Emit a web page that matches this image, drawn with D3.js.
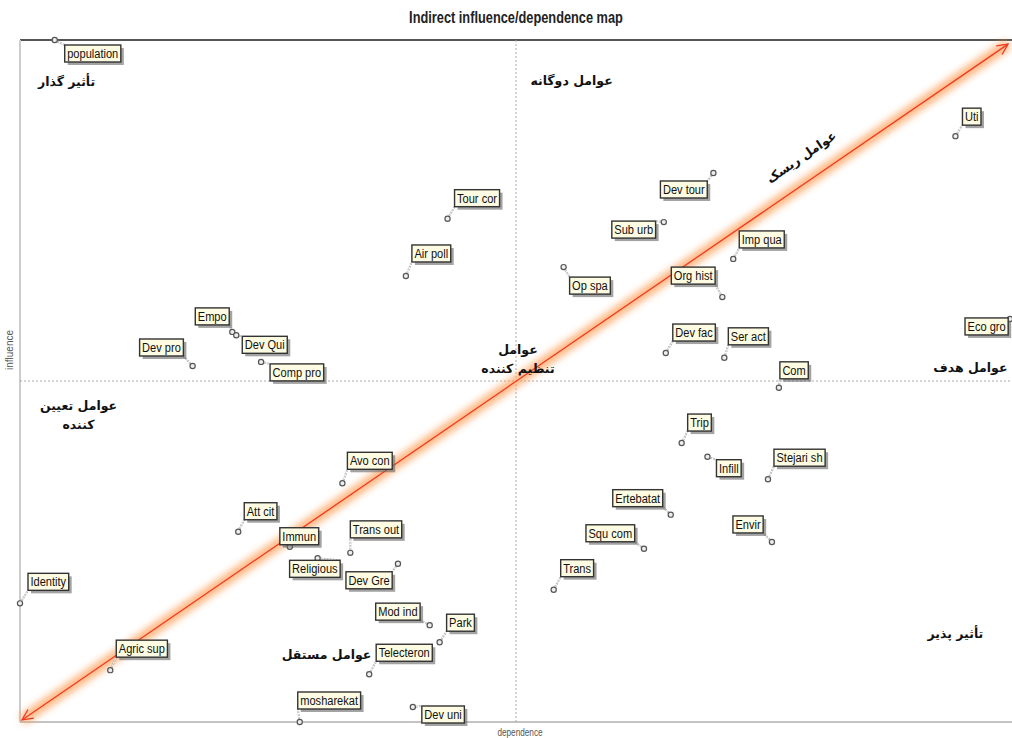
<!DOCTYPE html>
<html>
<head>
<meta charset="utf-8">
<script src="https://cdn.jsdelivr.net/npm/d3@7"></script>
<style>
  body { margin: 0; background: #fff; }
  svg { display: block; }
  .lbl { font-family: "Liberation Sans", Arial, sans-serif; font-size: 13.5px; fill: #111; }
  .fa { font-family: "DejaVu Sans", "Noto Sans", sans-serif; font-size: 12.5px; font-weight: bold; fill: #111; }
</style>
</head>
<body>
<div id="chart"></div>
<script>
// variables of the MICMAC indirect map
const names = ["population","Dev pro","Empo","Dev Qui","Comp pro","Tour cor","Air poll","Dev tour","Sub urb","Op spa",
  "Imp qua","Org hist","Dev fac","Ser act","Com","Eco gro","Uti","Trip","Infill","Stejari sh",
  "Ertebatat","Envir","Squ com","Trans","Avo con","Att cit","Immun","Religious","Trans out","Dev Gre",
  "Identity","Agric sup","Mod ind","Park","Telecteron","mosharekat","Dev uni"];
const dependence = [3.5,17.4,21.4,21.8,24.3,43.1,38.9,69.9,64.9,54.8,
  71.9,70.8,65.1,71.0,76.5,99.8,94.3,66.7,69.3,75.4,
  65.6,75.8,62.9,53.8,32.5,22.0,27.2,30.0,33.3,38.1,
  0,9.1,41.3,42.3,35.2,28.2,39.6];
const influence = [100,52.2,57.2,56.7,52.8,73.8,65.4,80.5,73.3,66.7,
  67.9,62.3,54.1,53.4,49.0,59.1,85.9,40.9,38.9,35.6,
  30.4,26.4,25.4,19.4,35.0,27.9,25.7,24.0,24.8,23.2,
  17.4,7.6,14.2,11.7,7.0,0,2.2];

// where each tag sits relative to its point (px)
const tagOffset = {
  "population":[10,5],"Dev pro":[-53,-27],"Empo":[-37,-24],"Dev Qui":[6,1],"Comp pro":[9,2],
  "Tour cor":[7,-29],"Air poll":[6,-31],"Dev tour":[-53,8],"Sub urb":[-52,-1],"Op spa":[6,10],
  "Imp qua":[6,-28],"Org hist":[-51,-30],"Dev fac":[7,-29],"Ser act":[4,-30],"Com":[1,-26],
  "Eco gro":[-45,-1],"Uti":[7,-28],"Trip":[6,-29],"Infill":[9,3],"Stejari sh":[6,-30],
  "Ertebatat":[-58,-25],"Envir":[-39,-26],"Squ com":[-58,-24],"Trans":[7,-30],"Avo con":[5,-31],
  "Att cit":[6,-29],"Immun":[-10,-19],"Religious":[-28,2],"Trans out":[0,-32],"Dev Gre":[-52,8],
  "Identity":[8,-30],"Agric sup":[6,-30],"Mod ind":[-54,-22],"Park":[7,-28],"Telecteron":[7,-30],
  "mosharekat":[-2,-30],"Dev uni":[9,-1]
};

// quadrant captions (Persian)
const captions = [
  {t:["تأثیر گذار"], x:4.7, y:93.2},
  {t:["عوامل دوگانه"], x:55.6, y:93.4},
  {t:["عوامل","تنظیم کننده"], x:50.2, y:54},
  {t:["عوامل هدف"], x:95.8, y:51.3},
  {t:["عوامل تعیین","کننده"], x:5.9, y:45.8},
  {t:["تأثیر پذیر"], x:94.3, y:12.3},
  {t:["عوامل مستقل"], x:30.9, y:9.3}
];

const width = 1012, height = 738;
const x = d3.scaleLinear().domain([0, 100]).range([20, 1012]);
const y = d3.scaleLinear().domain([0, 100]).range([722, 40]);
const squeeze = 0.82; // narrow typeface look

const svg = d3.select("#chart").append("svg")
  .attr("width", width).attr("height", height);

const defs = svg.append("defs");
defs.append("filter").attr("id", "glow").attr("x", "-10%").attr("y", "-10%").attr("width", "120%").attr("height", "120%")
  .append("feGaussianBlur").attr("stdDeviation", 3.5);

// title
svg.append("text").attr("transform", `translate(516,23) scale(0.8,1)`).attr("text-anchor", "middle")
  .style("font-family", "'Liberation Sans',Arial,sans-serif")
  .style("font-size", "16px").style("font-weight", "bold").attr("fill", "#222")
  .text("Indirect influence/dependence map");

// frame
svg.append("line").attr("x1", x(0)).attr("x2", x(100)).attr("y1", y(100)).attr("y2", y(100))
  .attr("stroke", "#555").attr("stroke-width", 2);
svg.append("line").attr("x1", x(0)).attr("x2", x(0)).attr("y1", y(100)).attr("y2", y(0))
  .attr("stroke", "#ccc").attr("stroke-width", 2);
svg.append("line").attr("x1", x(0)).attr("x2", x(100)).attr("y1", y(0)).attr("y2", y(0))
  .attr("stroke", "#888").attr("stroke-width", 1);
svg.append("line").attr("x1", x(50)).attr("x2", x(50)).attr("y1", y(100)).attr("y2", y(0))
  .attr("stroke", "#aaa").attr("stroke-dasharray", "2,2");
svg.append("line").attr("x1", x(0)).attr("x2", x(100)).attr("y1", y(50)).attr("y2", y(50))
  .attr("stroke", "#aaa").attr("stroke-dasharray", "2,2");

// axis names
svg.append("text").attr("transform", `translate(520,736) scale(${squeeze},1)`).attr("text-anchor", "middle")
  .style("font-family", "'Liberation Sans',sans-serif").style("font-size", "10px").attr("fill", "#555")
  .text("dependence");
svg.append("text").attr("transform", "translate(13,350) rotate(-90)").attr("text-anchor", "middle")
  .style("font-family", "'Liberation Sans',sans-serif").style("font-size", "10px").attr("fill", "#555")
  .text("influence");

// diagonal with glow
const dx1 = x(0.2), dy1 = y(0.3), dx2 = x(99.6), dy2 = y(99.4);
const ang = Math.atan2(dy2 - dy1, dx2 - dx1);
function head(px, py, a) {
  const l = 12, s = 0.45;
  return `M${px - l * Math.cos(a - s)},${py - l * Math.sin(a - s)}L${px},${py}L${px - l * Math.cos(a + s)},${py - l * Math.sin(a + s)}`;
}
svg.append("line").attr("x1", dx1).attr("y1", dy1).attr("x2", dx2).attr("y2", dy2)
  .attr("stroke", "#ff9a50").attr("stroke-width", 11).attr("opacity", 0.7).attr("filter", "url(#glow)");
svg.append("line").attr("x1", dx1).attr("y1", dy1).attr("x2", dx2).attr("y2", dy2)
  .attr("stroke", "#f03a20").attr("stroke-width", 1.3);
svg.append("path").attr("d", head(dx2, dy2, ang) + head(dx1, dy1, ang + Math.PI))
  .attr("fill", "none").attr("stroke", "#f03a20").attr("stroke-width", 1.3);

svg.append("text").attr("class", "fa")
  .attr("transform", `translate(${x(79)},${y(82.3)}) rotate(${ang * 180 / Math.PI})`)
  .attr("text-anchor", "middle").text("عوامل ریسک");

// captions
captions.forEach(c => {
  const t = svg.append("text").attr("class", "fa").attr("text-anchor", "middle").attr("direction", "rtl")
    .attr("x", x(c.x)).attr("y", y(c.y));
  c.t.forEach((s, i) => t.append("tspan").attr("x", x(c.x)).attr("dy", i ? 19 : 0).text(s));
});

// points with tags
const pts = names.map((n, i) => ({name: n, dep: dependence[i], inf: influence[i]}));
const g = svg.append("g");
pts.forEach(d => {
  const px = x(d.dep), py = y(d.inf);
  const off = tagOffset[d.name] || [6, -28];
  const bx = px + off[0], by = py + off[1];
  const tmp = g.append("text").attr("class", "lbl").text(d.name);
  const w = tmp.node().getComputedTextLength() * squeeze + 5;
  tmp.remove();
  const h = 17;
  // leader to nearest corner
  const cx = Math.abs(bx - px) < Math.abs(bx + w - px) ? bx : bx + w;
  const cy = Math.abs(by - py) < Math.abs(by + h - py) ? by : by + h;
  g.append("line").attr("x1", px).attr("y1", py).attr("x2", cx).attr("y2", cy)
    .attr("stroke", "#aaa").attr("stroke-width", 2).attr("stroke-dasharray", "2,1");
  g.append("line").attr("x1", px).attr("y1", py).attr("x2", cx).attr("y2", cy)
    .attr("stroke", "#fff").attr("stroke-width", 0.6);
  g.append("circle").attr("cx", px).attr("cy", py).attr("r", 2.6)
    .attr("fill", "#eee").attr("stroke", "#555").attr("stroke-width", 1.2);
  g.append("rect").attr("x", bx + 3).attr("y", by + 3).attr("width", w).attr("height", h)
    .attr("fill", "#666").attr("opacity", 0.6);
  g.append("rect").attr("x", bx).attr("y", by).attr("width", w).attr("height", h)
    .attr("fill", "#fdfbe1").attr("stroke", "#333").attr("stroke-width", 1.4);
  g.append("text").attr("class", "lbl")
    .attr("transform", `translate(${bx + 2.5},${by + 13}) scale(${squeeze},1)`).text(d.name);
});
</script>
</body>
</html>
